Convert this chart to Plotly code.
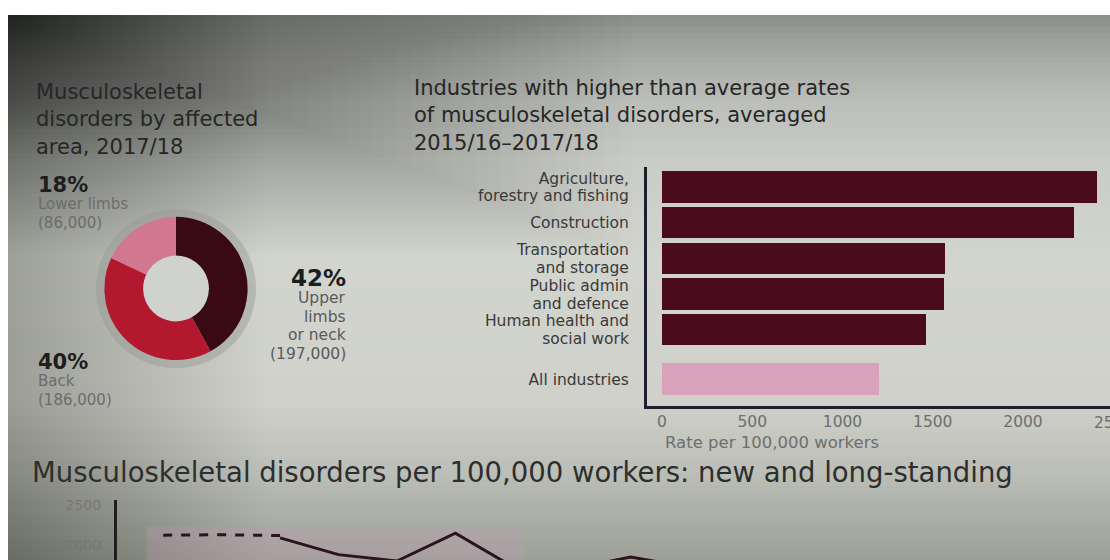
import plotly.graph_objects as go

W, H = 1110, 560


def px(x):
    return x / W


def py(y):
    return 1 - y / H


# ---------------- data ----------------
area_labels = ["Upper limbs or neck", "Back", "Lower limbs"]
area_pct = [42, 40, 18]
area_cases = ["197,000", "186,000", "86,000"]

industries = [
    "Agriculture,<br>forestry and fishing",
    "Construction",
    "Transportation<br>and storage",
    "Public admin<br>and defence",
    "Human health and<br>social work",
    "All industries",
]
industry_rates = [2410, 2280, 1570, 1560, 1460, 1200]
rate_ticks = [0, 500, 1000, 1500, 2000, 2500]

trend_years_old = [2001, 2002, 2003]
trend_rates_old = [2125, 2130, 2120]
trend_years_new = [2003, 2004, 2005, 2006, 2007, 2008, 2009, 2010]
trend_rates_new = [2090, 1880, 1800, 2150, 1720, 1700, 1850, 1720]
trend_ticks = [2000, 2500]

# ---------------- styles ----------------
FONT = "DejaVu Sans"
donut_colors = ["#3a0a14", "#b3182e", "#d27790"]
bar_dark = "#4a0b1c"
bar_light = "#d9a2bb"
bar_colors = [bar_dark] * (len(industries) - 1) + [bar_light]
# row layout: evenly spaced rows, with an extra gap before the last row
row_pos = [float(i) for i in range(len(industries) - 1)] + [len(industries) - 1 + 0.38]

# category labels: one tick per text line so wrapped labels sit tightly
line_gap = 0.5
cat_tick_pos, cat_tick_txt = [], []
for p, lab in zip(row_pos, industries):
    parts = lab.split("<br>")
    n = len(parts)
    for k, part in enumerate(parts):
        cat_tick_pos.append(p + (k - (n - 1) / 2) * line_gap)
        cat_tick_txt.append(part)

fig = go.Figure()

# donut
cx, cy, r = 176, 287, 72
fig.add_trace(go.Pie(
    labels=area_labels, values=area_pct, hole=0.46, sort=False,
    direction="clockwise", rotation=0,
    marker=dict(colors=donut_colors, line=dict(width=0)),
    textinfo="none", showlegend=False,
    domain=dict(x=[px(cx - r), px(cx + r)], y=[py(cy + r), py(cy - r)]),
))

# bars
fig.add_trace(go.Bar(
    x=industry_rates, y=row_pos, orientation="h", width=0.88,
    marker=dict(color=bar_colors, line=dict(width=0)),
    xaxis="x", yaxis="y", showlegend=False,
))

# trend lines
fig.add_trace(go.Scatter(
    x=trend_years_old, y=trend_rates_old, mode="lines",
    line=dict(color="#2b1320", width=3, dash="dash"),
    xaxis="x2", yaxis="y2", showlegend=False,
))
fig.add_trace(go.Scatter(
    x=trend_years_new, y=trend_rates_new, mode="lines",
    line=dict(color="#2b1320", width=3),
    xaxis="x2", yaxis="y2", showlegend=False,
))

# ---------------- background (photo-like shading) ----------------
shapes = []
bg_profile = [
    (12, (138, 142, 138)), (50, (165, 168, 163)), (100, (188, 190, 185)),
    (160, (202, 204, 199)), (260, (210, 212, 206)), (400, (207, 209, 202)),
    (470, (188, 191, 183)), (560, (156, 160, 151)),
]


def lerp_profile(y):
    for (y0, c0), (y1, c1) in zip(bg_profile, bg_profile[1:]):
        if y0 <= y <= y1:
            t = (y - y0) / (y1 - y0)
            return tuple(round(a + (b - a) * t) for a, b in zip(c0, c1))
    return bg_profile[-1][1]


step = 6
for y in range(12, 560, step):
    c = lerp_profile(y + step / 2)
    shapes.append(dict(type="rect", xref="paper", yref="paper", layer="below",
                       x0=px(8), x1=1, y0=py(min(y + step + 2, 560)), y1=py(y),
                       fillcolor="rgb(%d,%d,%d)" % c, line=dict(width=0)))

# top-left corner vignette: many nested, very faint rects -> smooth falloff
n_corner = 48
for k in range(1, n_corner + 1):
    shapes.append(dict(type="rect", xref="paper", yref="paper", layer="below",
                       x0=px(8), x1=px(8 + 13 * k), y0=py(12 + 5 * k), y1=py(12),
                       fillcolor="rgba(0,0,0,0.0068)", line=dict(width=0)))
# darker left edge
for xe in range(12, 272, 5):
    shapes.append(dict(type="rect", xref="paper", yref="paper", layer="below",
                       x0=px(8), x1=px(xe), y0=0, y1=py(12),
                       fillcolor="rgba(0,0,0,0.0034)", line=dict(width=0)))

# pink band behind the trend chart
shapes.append(dict(type="rect", xref="paper", yref="paper", layer="below",
                   x0=px(147), x1=px(522), y0=0, y1=py(527),
                   fillcolor="rgba(205,150,185,0.22)", line=dict(width=0)))

# donut halo and hole
hr = r + 8
shapes.append(dict(type="circle", xref="paper", yref="paper", layer="below",
                   x0=px(cx - hr), x1=px(cx + hr), y0=py(cy + hr), y1=py(cy - hr),
                   fillcolor="rgba(150,152,148,0.45)", line=dict(width=0)))
ir = r * 0.46
shapes.append(dict(type="circle", xref="paper", yref="paper", layer="below",
                   x0=px(cx - ir), x1=px(cx + ir), y0=py(cy + ir), y1=py(cy - ir),
                   fillcolor="rgb(208,210,205)", line=dict(width=0)))

# ---------------- text ----------------
ann = []


def text(x, y, s, size, color="#262626", anchor="left", bold=False):
    ann.append(dict(xref="paper", yref="paper", x=px(x), y=py(y), text=s,
                    showarrow=False, xanchor=anchor, yanchor="middle", align=anchor,
                    font=dict(family=FONT, size=size, color=color,
                              weight="bold" if bold else "normal")))


# titles
text(34, 117, "Musculoskeletal<br>disorders by affected<br>area, 2017/18", 21)
text(412, 113, "Industries with higher than average rates<br>"
               "of musculoskeletal disorders, averaged<br>2015/16\u20132017/18", 21)
text(30, 472, "Musculoskeletal disorders per 100,000 workers: new and long-standing", 27.5, "#2e2e2e")

# donut labels
text(36, 183, "%d%%" % area_pct[2], 21, "#1e1e1e", bold=True)
text(36, 202, "Lower limbs", 15, "#6c6c6c")
text(36, 221, "(%s)" % area_cases[2], 15, "#6c6c6c")

text(348, 276, "%d%%" % area_pct[0], 23, "#1e1e1e", anchor="right", bold=True)
for i, line in enumerate(["Upper", "limbs", "or neck", "(%s)" % area_cases[0]]):
    text(348, 297 + 18.5 * i, line, 15.5, "#5a5a5a", anchor="right")

text(36, 361, "%d%%" % area_pct[1], 21, "#1e1e1e", bold=True)
text(36, 380, "Back", 15, "#6c6c6c")
text(36, 399, "(%s)" % area_cases[1], 15, "#6c6c6c")

# bar chart axis title + clipped last tick (as in the photo)
x_dom0 = px(647)
x_rng = [-83, 2482]
text(663, 442, "Rate per 100,000 workers", 16.5, "#6e6e6e")
last_tick_paper = x_dom0 + (rate_ticks[-1] - x_rng[0]) / (x_rng[1] - x_rng[0]) * (1 - x_dom0)
ann.append(dict(xref="paper", yref="paper", x=last_tick_paper, y=py(422),
                text=str(rate_ticks[-1]), showarrow=False, xanchor="center", yanchor="middle",
                font=dict(family=FONT, size=15.5, color="#6e6e6e")))

fig.update_layout(
    width=W, height=H, margin=dict(l=0, r=0, t=0, b=0),
    paper_bgcolor="white", plot_bgcolor="rgba(0,0,0,0)",
    font=dict(family=FONT), showlegend=False,
    shapes=shapes, annotations=ann, bargap=0,
    xaxis=dict(domain=[x_dom0, 1], range=x_rng, anchor="y",
               showline=True, linecolor="#1e1f2a", linewidth=3, mirror=False,
               showgrid=False, zeroline=False, ticks="",
               tickvals=rate_ticks[:-1], ticktext=[str(t) for t in rate_ticks[:-1]],
               tickfont=dict(family=FONT, size=15.5, color="#6e6e6e"),
               ticklabelstandoff=0),
    yaxis=dict(domain=[py(405), py(165)], range=[6.13, -0.56], anchor="x",
               showline=True, linecolor="#1e1f2a", linewidth=3,
               showgrid=False, zeroline=False, ticks="",
               tickvals=cat_tick_pos, ticktext=cat_tick_txt,
               tickfont=dict(family=FONT, size=15.5, color="#3a3a3a"),
               ticklabelstandoff=12),
    xaxis2=dict(domain=[px(117), 1], range=[2000.21, 2017.2], anchor="y2",
                showline=False, showgrid=False, zeroline=False,
                showticklabels=False, ticks=""),
    yaxis2=dict(domain=[0, py(500)], range=[1812.5, 2562.5], anchor="x2",
                showline=True, linecolor="#1e1e1e", linewidth=3,
                showgrid=False, zeroline=False, ticks="",
                tickvals=trend_ticks, ticktext=[str(t) for t in trend_ticks],
                tickfont=dict(family=FONT, size=14, color="#77786f"),
                ticklabelstandoff=10),
)

fig.write_html("out.html")
